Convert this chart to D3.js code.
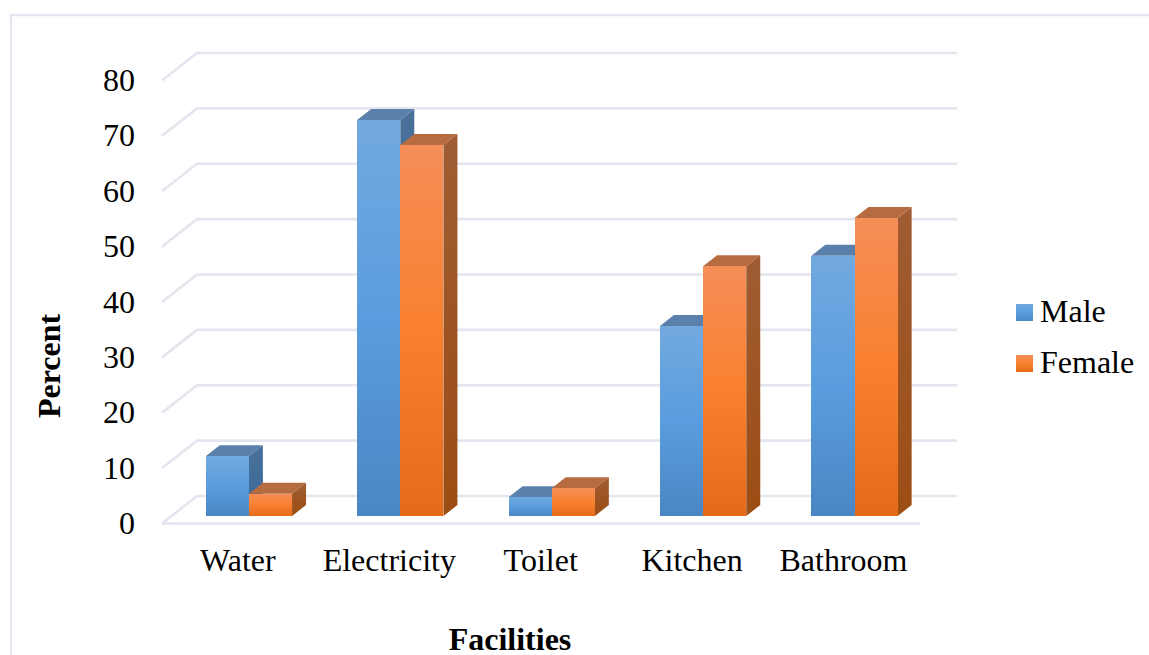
<!DOCTYPE html>
<html>
<head>
<meta charset="utf-8">
<script src="https://cdn.jsdelivr.net/npm/d3@7/dist/d3.min.js"></script>
<style>
html,body{margin:0;padding:0;background:#fff;overflow:hidden}
svg{display:block}
text{font-family:"Liberation Serif",serif;fill:#000}
</style>
</head>
<body>
<script>
const categories = ["Water", "Electricity", "Toilet", "Kitchen", "Bathroom"];
const maleValues = [10.8, 71.5, 3.4, 34.3, 47];
const femaleValues = [4, 67, 5, 45.1, 53.8];
const seriesNames = ["Male", "Female"];
const yTicks = [0, 10, 20, 30, 40, 50, 60, 70, 80];

const width = 1149, height = 655;
const svg = d3.select("body").append("svg").attr("width", width).attr("height", height);

// Scales: y gives the height on the front plane of the bars
const y = d3.scaleLinear().domain([0, 80]).range([516, 73]);
const x0 = d3.scaleBand().domain(categories).range([173.2, 930.2]).paddingInner(0.43).paddingOuter(0.215);
const x1 = d3.scaleBand().domain(seriesNames).range([0, x0.bandwidth()]);

// Perspective offsets of the chart box and of each bar
const wallDx = 35, wallDy = -27.5, wallShift = -20;
const barDx = 14, barDy = -11;

const palette = {
  Male: {stops: ["#72a9df", "#5a9dde", "#4a86c3"], top: "#5a80ab", side: ["#4a7099", "#366a9c"]},
  Female: {stops: ["#f58e58", "#f9802e", "#e36b1a"], top: "#b66c40", side: ["#9f5c33", "#9c4d13"]}
};

const defs = svg.append("defs");
seriesNames.forEach(name => {
  const p = palette[name];
  const front = defs.append("linearGradient").attr("id", "front" + name).attr("x1", 0).attr("y1", 0).attr("x2", 0).attr("y2", 1);
  p.stops.forEach((c, i) => front.append("stop").attr("offset", i / 2).attr("stop-color", c));
  const side = defs.append("linearGradient").attr("id", "side" + name).attr("x1", 0).attr("y1", 0).attr("x2", 0).attr("y2", 1);
  p.side.forEach((c, i) => side.append("stop").attr("offset", i).attr("stop-color", c));
});

// Outer chart frame, open at the right and bottom edges
svg.append("path")
  .attr("d", `M${width},15 H11 V${height}`)
  .attr("fill", "none").attr("stroke", "#e4e8f0").attr("stroke-width", 2.4);

// Back wall gridlines with their diagonal returns to the tick labels
const gridColor = "#e4e6ef";
const grid = svg.append("g").attr("fill", "none").attr("stroke", gridColor).attr("stroke-width", 2.6);
yTicks.forEach(t => {
  const yBack = y(t) + wallShift;
  grid.append("path")
    .attr("d", `M${162},${yBack - wallDy} L${162 + wallDx},${yBack} H957`);
});
// Floor front edge
grid.append("line").attr("x1", 162).attr("x2", 920).attr("y1", y(0) + wallShift - wallDy).attr("y2", y(0) + wallShift - wallDy);

// Y tick labels
svg.append("g").selectAll("text").data(yTicks).join("text")
  .attr("x", 135).attr("y", d => y(d) + 18)
  .attr("text-anchor", "end").attr("font-size", 32)
  .text(d => d);

// Bars: each is a front face, a top face and a side face
const rows = categories.flatMap((c, i) => [
  {category: c, series: "Male", value: maleValues[i]},
  {category: c, series: "Female", value: femaleValues[i]}
]);
const bars = svg.append("g").selectAll("g").data(rows).join("g");
bars.each(function(d) {
  const g = d3.select(this);
  const left = x0(d.category) + x1(d.series);
  const right = left + x1.bandwidth();
  const top = y(d.value), base = y(0);
  g.append("path")
    .attr("d", `M${left},${top} L${left + barDx},${top + barDy} H${right + barDx} L${right},${top} Z`)
    .attr("fill", palette[d.series].top);
  g.append("path")
    .attr("d", `M${right},${top} L${right + barDx},${top + barDy} V${base + barDy} L${right},${base} Z`)
    .attr("fill", `url(#side${d.series})`);
  g.append("rect")
    .attr("x", left).attr("y", top).attr("width", right - left).attr("height", base - top)
    .attr("fill", `url(#front${d.series})`)
    .attr("shape-rendering", "crispEdges");
});

// Category labels
svg.append("g").selectAll("text").data(categories).join("text")
  .attr("x", d => x0(d) + x0.bandwidth() / 2 - 11)
  .attr("y", 571).attr("text-anchor", "middle").attr("font-size", 32)
  .text(d => d);

// Axis titles
svg.append("text").attr("x", 510).attr("y", 649.5).attr("text-anchor", "middle")
  .attr("font-size", 32).attr("font-weight", "bold").text("Facilities");
svg.append("text").attr("transform", "translate(60,366) rotate(-90)").attr("text-anchor", "middle")
  .attr("font-size", 32).attr("font-weight", "bold").text("Percent");

// Legend
const legend = svg.append("g").selectAll("g").data(seriesNames).join("g")
  .attr("transform", (d, i) => `translate(1016,${304 + i * 51})`);
legend.append("rect").attr("width", 17).attr("height", 17).attr("fill", d => `url(#front${d})`);
legend.append("text").attr("x", 24).attr("y", 18).attr("font-size", 32).text(d => d);
</script>
</body>
</html>
